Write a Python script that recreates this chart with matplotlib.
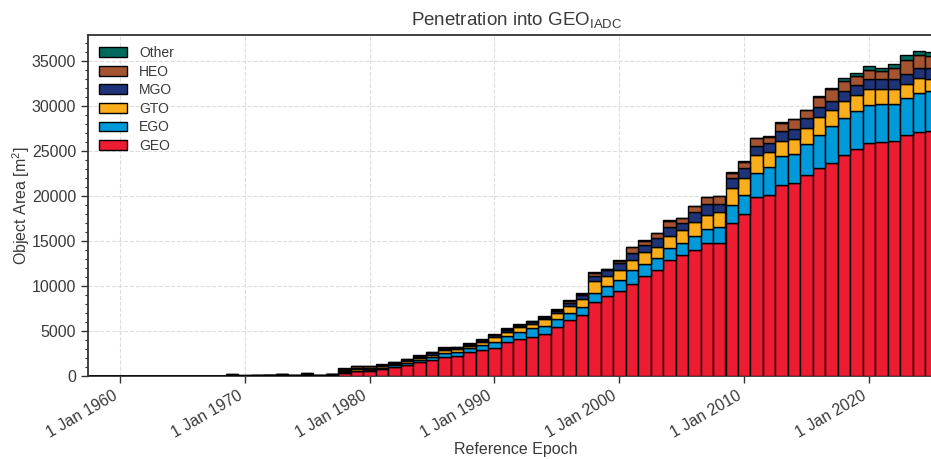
"""
Stacked yearly object area penetrating the GEO IADC protected region, by orbit class.
"""

from datetime import datetime

import matplotlib

matplotlib.use("Agg")
import matplotlib.dates as mdates
import matplotlib.pyplot as plt
from matplotlib.ticker import AutoMinorLocator

# --- data (m^2), one value per reference epoch (1 Jan of each year)
years = list(range(1958, 2026))

geo = [0, 0, 0, 0, 0, 0, 0, 0, 0, 0, 0,
       60, 20, 30, 50, 80, 30, 120, 30, 100,
       370, 500, 550, 800, 1000, 1200, 1550, 1780, 2150, 2260,
       2630, 2890, 3150, 3720, 4100, 4370, 4670, 5480, 6220, 6780,
       8260, 8890, 9460, 10260, 11110, 11740, 12930, 13480, 14070, 14740,
       14780, 17040, 18000, 19890, 20190, 21300, 21440, 22410, 23150, 23700,
       24630, 25260, 25930, 26000, 26190, 26850, 27150, 27220]
ego = [0, 0, 0, 0, 0, 0, 0, 0, 0, 0, 0,
       0, 0, 0, 0, 10, 0, 20, 0, 10,
       80, 100, 100, 100, 200, 220, 250, 290, 370, 370,
       440, 550, 660, 720, 830, 930, 890, 820, 820, 850,
       1000, 1150, 1260, 1480, 1370, 1410, 1260, 1300, 1450, 1590,
       1810, 2000, 2190, 2740, 3030, 3180, 3300, 3370, 3660, 4110,
       4070, 4180, 4220, 4300, 4070, 4110, 4370, 4450]
gto = [0, 0, 0, 0, 0, 0, 0, 0, 0, 0, 0,
       40, 10, 20, 30, 40, 20, 60, 20, 50,
       120, 200, 150, 150, 150, 200, 200, 300, 370, 330,
       260, 380, 560, 490, 480, 470, 740, 740, 740, 930,
       1330, 1070, 1080, 1150, 1260, 1180, 1330, 1410, 1630, 1630,
       1600, 1850, 1880, 1930, 1670, 1670, 1630, 1850, 2040, 1750,
       1890, 1820, 1740, 1590, 1630, 1520, 1630, 1400]
mgo = [0, 0, 0, 0, 0, 0, 0, 0, 0, 0, 0,
       30, 10, 10, 20, 30, 10, 40, 10, 30,
       100, 100, 120, 100, 100, 120, 120, 150, 140, 140,
       140, 120, 140, 180, 160, 180, 180, 180, 350, 400,
       500, 670, 720, 810, 820, 970, 1040, 850, 1110, 1190,
       1000, 1110, 1080, 1030, 1070, 1070, 1150, 1070, 1080, 1030,
       1110, 1110, 1110, 1110, 1110, 1110, 1110, 1230]
heo = [0, 0, 0, 0, 0, 0, 0, 0, 0, 0, 0,
       30, 10, 10, 10, 30, 10, 40, 10, 40,
       120, 150, 130, 120, 80, 100, 120, 120, 100, 100,
       100, 70, 100, 130, 110, 140, 130, 130, 220, 150,
       350, 80, 300, 600, 480, 560, 700, 520, 600, 740,
       810, 620, 700, 850, 660, 960, 1030, 850, 1100, 1350,
       1110, 960, 1000, 930, 1300, 1600, 1410, 1290]
other = [0, 0, 0, 0, 0, 0, 0, 0, 0, 0, 0,
         20, 0, 10, 10, 20, 10, 20, 10, 20,
         60, 60, 60, 60, 60, 60, 60, 60, 60, 60,
         60, 60, 60, 60, 60, 60, 60, 60, 90, 80,
         80, 70, 70, 70, 70, 70, 70, 70, 70, 70,
         70, 80, 80, 80, 80, 80, 80, 80, 80, 100,
         380, 370, 440, 370, 440, 480, 480, 450]

series = [
    ("GEO", geo, "#ED1C33"),
    ("EGO", ego, "#009ADA"),
    ("GTO", gto, "#FBAE1B"),
    ("MGO", mgo, "#1F3478"),
    ("HEO", heo, "#A55432"),
    ("Other", other, "#006A5E"),
]

TEXT = "#3a3a3a"
plt.rcParams["font.family"] = ["Liberation Sans", "DejaVu Sans"]
plt.rcParams["mathtext.fontset"] = "custom"
plt.rcParams["mathtext.rm"] = "Liberation Sans"
plt.rcParams["mathtext.it"] = "Liberation Sans:italic"

fig = plt.figure(figsize=(9.31, 4.59), dpi=100)
ax = fig.add_axes([0.0945, 0.181, 0.92, 0.743])

dates = [datetime(y, 1, 1) for y in years]
bottom = [0.0] * len(years)
for name, vals, col in series:
    ax.bar(dates, vals, width=365, bottom=bottom, color=col, edgecolor="black",
           linewidth=1.0, label=name, zorder=3)
    bottom = [b + v for b, v in zip(bottom, vals)]

ax.set_xlim(datetime(1957, 6, 13), datetime(2026, 1, 15))
ax.set_ylim(0, 1.05 * max(bottom))

ax.xaxis.set_major_locator(mdates.YearLocator(10))
ax.xaxis.set_major_formatter(mdates.DateFormatter("%-d %b %Y"))
ax.yaxis.set_minor_locator(AutoMinorLocator(5))
for lab in ax.get_xticklabels():
    lab.set_rotation(30)
    lab.set_ha("right")

ax.tick_params(axis="both", which="major", labelsize=11.5, colors="#333333",
               labelcolor=TEXT, length=5, width=1.0)
ax.tick_params(axis="y", which="minor", length=2.5, width=0.8, colors="#333333")
for side in ("left", "bottom", "top"):
    ax.spines[side].set_color("#333333")
    ax.spines[side].set_linewidth(1.3)
ax.spines["right"].set_visible(False)

ax.grid(True, which="major", linestyle="--", color="#dddddd", linewidth=0.8, zorder=0)
ax.set_axisbelow(True)

ax.set_title(r"Penetration into GEO$_{\rm IADC}$", fontsize=13.5, color=TEXT, pad=7)
ax.set_xlabel("Reference Epoch", fontsize=11.5, color=TEXT, labelpad=1)
ax.set_ylabel(r"Object Area [m$^2$]", fontsize=11.5, color=TEXT, labelpad=-0.5)

handles, labels = ax.get_legend_handles_labels()
leg = ax.legend(handles[::-1], labels[::-1], loc="upper left", fontsize=10,
                frameon=False, labelspacing=0.33, borderaxespad=0.4,
                handletextpad=0.9)
for t in leg.get_texts():
    t.set_color(TEXT)

fig.savefig("out.png", dpi=100)
